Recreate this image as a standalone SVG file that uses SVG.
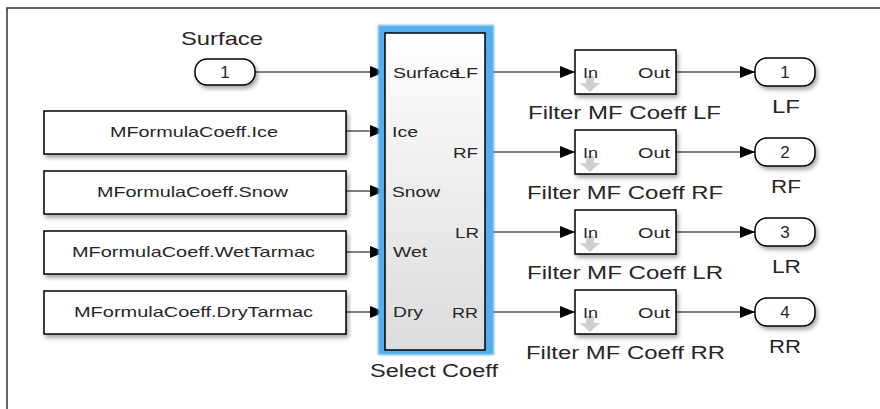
<svg xmlns="http://www.w3.org/2000/svg" width="880" height="409" viewBox="0 0 880 409">
<defs>
<style>
.t{font-family:"Liberation Sans",Arial,sans-serif;fill:#262626;}
.blk{fill:#fff;stroke:#000;stroke-width:1.5;}
.ln{stroke:#000;stroke-width:1.2;fill:none;}
</style>
<filter id="sh" x="-20%" y="-20%" width="150%" height="160%">
<feDropShadow dx="2" dy="3" stdDeviation="2" flood-color="#000" flood-opacity="0.35"/>
</filter>
<filter id="glow" x="-10%" y="-10%" width="120%" height="120%">
<feGaussianBlur stdDeviation="1"/>
</filter>
<linearGradient id="gr" x1="0" y1="0" x2="0" y2="1">
<stop offset="0" stop-color="#ffffff"/>
<stop offset="1" stop-color="#dcdcdc"/>
</linearGradient>
<marker id="ar" viewBox="0 0 15 12" refX="15" refY="6" markerWidth="15" markerHeight="12" markerUnits="userSpaceOnUse" orient="auto">
<path d="M0,0 L15,6 L0,12 z" fill="#000"/>
</marker>
<g id="dn">
<path d="M-4,0 h8 v7 h6 l-10,9 l-10,-9 h6 z" fill="#cfcfcf"/>
</g>
</defs>
<rect x="0" y="0" width="880" height="409" fill="#fff"/>
<rect x="7" y="8" width="900" height="430" fill="none" stroke="#333" stroke-width="1.5"/>

<g id="connectors">
<line class="ln" x1="255" y1="72" x2="385" y2="72" marker-end="url(#ar)"/>
<line class="ln" x1="346" y1="131" x2="385" y2="131" marker-end="url(#ar)"/>
<line class="ln" x1="346" y1="191" x2="385" y2="191" marker-end="url(#ar)"/>
<line class="ln" x1="346" y1="252" x2="385" y2="252" marker-end="url(#ar)"/>
<line class="ln" x1="346" y1="312" x2="385" y2="312" marker-end="url(#ar)"/>
<line class="ln" x1="485" y1="72" x2="575" y2="72" marker-end="url(#ar)"/>
<line class="ln" x1="485" y1="152" x2="575" y2="152" marker-end="url(#ar)"/>
<line class="ln" x1="485" y1="232" x2="575" y2="232" marker-end="url(#ar)"/>
<line class="ln" x1="485" y1="312" x2="575" y2="312" marker-end="url(#ar)"/>
<line class="ln" x1="676" y1="72" x2="755" y2="72" marker-end="url(#ar)"/>
<line class="ln" x1="676" y1="152" x2="755" y2="152" marker-end="url(#ar)"/>
<line class="ln" x1="676" y1="232" x2="755" y2="232" marker-end="url(#ar)"/>
<line class="ln" x1="676" y1="312" x2="755" y2="312" marker-end="url(#ar)"/>
</g>

<g id="inport-surface">
<rect class="blk" x="195" y="59" width="60" height="26" rx="12" filter="url(#sh)"/>
<text class="t" x="225" y="78" font-size="17" text-anchor="middle">1</text>
<text class="t" x="181" y="45" font-size="19" textLength="82" lengthAdjust="spacingAndGlyphs">Surface</text>
</g>

<g id="const-ice">
<rect class="blk" x="44" y="111" width="302" height="43" filter="url(#sh)"/>
<text class="t" x="110" y="137" font-size="15" textLength="168" lengthAdjust="spacingAndGlyphs">MFormulaCoeff.Ice</text>
</g>
<g id="const-snow">
<rect class="blk" x="44" y="171" width="302" height="43" filter="url(#sh)"/>
<text class="t" x="97" y="197" font-size="15" textLength="191" lengthAdjust="spacingAndGlyphs">MFormulaCoeff.Snow</text>
</g>
<g id="const-wet">
<rect class="blk" x="44" y="231" width="302" height="43" filter="url(#sh)"/>
<text class="t" x="72" y="257" font-size="15" textLength="243" lengthAdjust="spacingAndGlyphs">MFormulaCoeff.WetTarmac</text>
</g>
<g id="const-dry">
<rect class="blk" x="44" y="291" width="302" height="43" filter="url(#sh)"/>
<text class="t" x="74" y="317" font-size="15" textLength="239" lengthAdjust="spacingAndGlyphs">MFormulaCoeff.DryTarmac</text>
</g>

<g id="select-coeff">
<rect x="378" y="25" width="116" height="330" fill="#55AEEC" filter="url(#glow)"/>
<rect x="385" y="33" width="100" height="317" fill="url(#gr)" stroke="#000" stroke-width="1.5"/>
<text class="t" x="393" y="78" font-size="14" textLength="67" lengthAdjust="spacingAndGlyphs">Surface</text>
<text class="t" x="392" y="137" font-size="14" textLength="26" lengthAdjust="spacingAndGlyphs">Ice</text>
<text class="t" x="392" y="197" font-size="14" textLength="48" lengthAdjust="spacingAndGlyphs">Snow</text>
<text class="t" x="393" y="257" font-size="14" textLength="34" lengthAdjust="spacingAndGlyphs">Wet</text>
<text class="t" x="393" y="317" font-size="14" textLength="30" lengthAdjust="spacingAndGlyphs">Dry</text>
<text class="t" x="455" y="78" font-size="14" textLength="23" lengthAdjust="spacingAndGlyphs">LF</text>
<text class="t" x="453" y="158" font-size="14" textLength="25" lengthAdjust="spacingAndGlyphs">RF</text>
<text class="t" x="455" y="238" font-size="14" textLength="24" lengthAdjust="spacingAndGlyphs">LR</text>
<text class="t" x="452" y="318" font-size="14" textLength="26" lengthAdjust="spacingAndGlyphs">RR</text>
<text class="t" x="370" y="377" font-size="18" textLength="128" lengthAdjust="spacingAndGlyphs">Select Coeff</text>
</g>

<g id="filter-lf">
<rect class="blk" x="575" y="50" width="101" height="44" filter="url(#sh)"/>
<use href="#dn" x="590" y="76"/>
<text class="t" x="583" y="78" font-size="14" textLength="15" lengthAdjust="spacingAndGlyphs">In</text>
<text class="t" x="638" y="78" font-size="14" textLength="32" lengthAdjust="spacingAndGlyphs">Out</text>
<text class="t" x="528" y="119" font-size="18" textLength="193" lengthAdjust="spacingAndGlyphs">Filter MF Coeff LF</text>
</g>
<g id="filter-rf">
<rect class="blk" x="575" y="130" width="101" height="44" filter="url(#sh)"/>
<use href="#dn" x="590" y="156"/>
<text class="t" x="583" y="158" font-size="14" textLength="15" lengthAdjust="spacingAndGlyphs">In</text>
<text class="t" x="638" y="158" font-size="14" textLength="32" lengthAdjust="spacingAndGlyphs">Out</text>
<text class="t" x="527" y="199" font-size="18" textLength="196" lengthAdjust="spacingAndGlyphs">Filter MF Coeff RF</text>
</g>
<g id="filter-lr">
<rect class="blk" x="575" y="210" width="101" height="44" filter="url(#sh)"/>
<use href="#dn" x="590" y="236"/>
<text class="t" x="583" y="238" font-size="14" textLength="15" lengthAdjust="spacingAndGlyphs">In</text>
<text class="t" x="638" y="238" font-size="14" textLength="32" lengthAdjust="spacingAndGlyphs">Out</text>
<text class="t" x="527" y="279" font-size="18" textLength="196" lengthAdjust="spacingAndGlyphs">Filter MF Coeff LR</text>
</g>
<g id="filter-rr">
<rect class="blk" x="575" y="290" width="101" height="44" filter="url(#sh)"/>
<use href="#dn" x="590" y="316"/>
<text class="t" x="583" y="318" font-size="14" textLength="15" lengthAdjust="spacingAndGlyphs">In</text>
<text class="t" x="638" y="318" font-size="14" textLength="32" lengthAdjust="spacingAndGlyphs">Out</text>
<text class="t" x="526" y="359" font-size="18" textLength="199" lengthAdjust="spacingAndGlyphs">Filter MF Coeff RR</text>
</g>

<g id="outport-lf">
<rect class="blk" x="755" y="58" width="60" height="28" rx="12" filter="url(#sh)"/>
<text class="t" x="785" y="78" font-size="17" text-anchor="middle">1</text>
<text class="t" x="772" y="113" font-size="18" textLength="28" lengthAdjust="spacingAndGlyphs">LF</text>
</g>
<g id="outport-rf">
<rect class="blk" x="755" y="138" width="60" height="28" rx="12" filter="url(#sh)"/>
<text class="t" x="785" y="158" font-size="17" text-anchor="middle">2</text>
<text class="t" x="771" y="193" font-size="18" textLength="30" lengthAdjust="spacingAndGlyphs">RF</text>
</g>
<g id="outport-lr">
<rect class="blk" x="755" y="218" width="60" height="28" rx="12" filter="url(#sh)"/>
<text class="t" x="785" y="238" font-size="17" text-anchor="middle">3</text>
<text class="t" x="772" y="273" font-size="18" textLength="29" lengthAdjust="spacingAndGlyphs">LR</text>
</g>
<g id="outport-rr">
<rect class="blk" x="755" y="298" width="60" height="28" rx="12" filter="url(#sh)"/>
<text class="t" x="785" y="318" font-size="17" text-anchor="middle">4</text>
<text class="t" x="769" y="353" font-size="18" textLength="32" lengthAdjust="spacingAndGlyphs">RR</text>
</g>
</svg>
